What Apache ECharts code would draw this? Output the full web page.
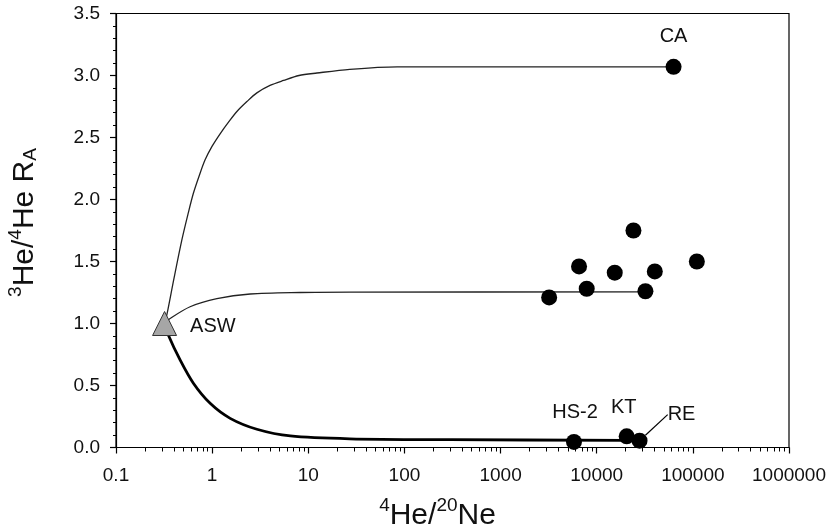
<!DOCTYPE html>
<html>
<head>
<meta charset="utf-8">
<script src="https://cdn.jsdelivr.net/npm/echarts@6/dist/echarts.min.js"></script>
<style>
  html, body { margin: 0; padding: 0; background: #fff; }
  #chart { width: 831px; height: 529px; }
</style>
</head>
<body>
<div id="chart"></div>
<script>
// Tick labels
const xTickLabels = ['0.1', '1', '10', '100', '1000', '10000', '100000', '1000000'];
const xDecades = [0.1, 1, 10, 100, 1000, 10000, 100000];

// Air-saturated water end member
const aswX = [0.32];
const aswY = [1.0];

// Unlabelled samples
const sampleX = [3200, 6550, 7870, 15400, 24100, 32100, 40200, 110000];
const sampleY = [1.21, 1.46, 1.28, 1.41, 1.75, 1.26, 1.42, 1.50];

// Named sites
const siteNames = ['CA', 'HS-2', 'KT', 'RE'];
const siteX = [63000, 5800, 20500, 27900];
const siteY = [3.07, 0.045, 0.09, 0.055];

// Mixing curves from ASW
const curveUpperX = [0.32, 0.34, 0.40, 0.483, 0.56, 0.638, 0.74, 0.845, 1.0, 1.21, 1.5, 1.81, 2.3, 2.92, 4.0, 5.53, 8.0, 12.3, 27, 84, 1000, 63000];
const curveUpperY = [1.0, 1.08, 1.36, 1.67, 1.88, 2.05, 2.2, 2.32, 2.43, 2.53, 2.63, 2.71, 2.79, 2.86, 2.92, 2.96, 3.0, 3.02, 3.05, 3.07, 3.07, 3.07];

const curveMidX = [0.32, 0.365, 0.59, 1.12, 2.49, 8.3, 27, 32100];
const curveMidY = [1.0, 1.04, 1.135, 1.2, 1.238, 1.25, 1.253, 1.255];

const curveLowX = [0.32, 0.35, 0.464, 0.638, 0.953, 1.54, 2.92, 6.5, 27, 300, 20000];
const curveLowY = [1.0, 0.907, 0.706, 0.518, 0.356, 0.235, 0.147, 0.093, 0.07, 0.063, 0.058];

const zip = (xs, ys) => xs.map((x, i) => [x, ys[i]]);

const minorTicks = [];
xDecades.forEach(d => { for (let k = 2; k <= 9; k++) minorTicks.push(k * d); });

// Label shifts (px) from each site marker's centre
const siteLabelShift = {
  'CA': [0, -30],
  'HS-2': [1, -29],
  'KT': [-3, -29],
  'RE': [42, -26]
};

const FONT = 'Liberation Sans, Arial, sans-serif';
const INK = '#000';

const siteData = siteNames.map((name, i) => ({
  name: name,
  value: [siteX[i], siteY[i]],
  labelLine: { show: name === 'RE' }
}));

const chart = echarts.init(document.getElementById('chart'), null, { renderer: 'canvas' });

chart.setOption({
  animation: false,
  backgroundColor: '#fff',
  grid: {
    left: 116, right: 42, top: 13.5, bottom: 81.5,
    containLabel: false, outerBoundsMode: 'none',
    show: true, borderColor: INK, borderWidth: 1.2, backgroundColor: 'transparent'
  },
  xAxis: [
    {
      type: 'log', logBase: 10, min: 0.1, max: 1000000,
      position: 'bottom',
      axisLine: { show: true, onZero: false, lineStyle: { color: INK, width: 1.2 } },
      axisTick: { show: true, length: 6, lineStyle: { color: INK, width: 1.2 } },
      minorTick: { show: false },
      splitLine: { show: false },
      axisLabel: {
        color: '#111', fontFamily: FONT, fontSize: 19, margin: 19,
        formatter: v => xTickLabels[Math.round(Math.log10(v)) + 1]
      },
      name: '{sup|4}{main|He/}{sup|20}{main|Ne}',
      nameLocation: 'middle',
      nameGap: 49,
      nameTextStyle: {
        padding: [0, 30, 0, 0],
        rich: {
          main: { fontFamily: FONT, fontSize: 30, color: '#111', lineHeight: 34, verticalAlign: 'bottom' },
          sup: { fontFamily: FONT, fontSize: 19, color: '#111', lineHeight: 19, verticalAlign: 'top' }
        }
      }
    },
    {
      type: 'log', logBase: 10, min: 0.1, max: 1000000,
      position: 'bottom',
      axisLine: { show: false, onZero: false },
      axisTick: { show: true, length: 4, customValues: minorTicks, lineStyle: { color: INK, width: 1 } },
      axisLabel: { show: false },
      splitLine: { show: false }
    }
  ],
  yAxis: {
    type: 'value', min: 0, max: 3.5, interval: 0.5,
    axisLine: { show: true, onZero: false, lineStyle: { color: INK, width: 1.2 } },
    axisTick: { show: true, length: 6, lineStyle: { color: INK, width: 1.2 } },
    minorTick: { show: true, splitNumber: 5, length: 3, lineStyle: { color: INK, width: 1 } },
    splitLine: { show: false },
    axisLabel: {
      color: '#111', fontFamily: FONT, fontSize: 19, margin: 16,
      formatter: v => v.toFixed(1)
    },
    name: '{sup|3}{main|He/}{sup|4}{main|He R}{sub|A}',
    nameLocation: 'middle',
    nameGap: 76,
    nameTextStyle: {
      padding: [0, 0, 0, 16],
      rich: {
        main: { fontFamily: FONT, fontSize: 30, color: '#111', lineHeight: 34, verticalAlign: 'bottom' },
        sup: { fontFamily: FONT, fontSize: 19, color: '#111', lineHeight: 19, verticalAlign: 'top' },
        sub: { fontFamily: FONT, fontSize: 19, color: '#111', lineHeight: 19, verticalAlign: 'bottom' }
      }
    }
  },
  series: [
    {
      name: 'upper', type: 'line', data: zip(curveUpperX, curveUpperY),
      showSymbol: false, smooth: 0.3,
      lineStyle: { color: '#222', width: 1.3 }, z: 2, silent: true
    },
    {
      name: 'middle', type: 'line', data: zip(curveMidX, curveMidY),
      showSymbol: false, smooth: 0.3,
      lineStyle: { color: '#222', width: 1.3 }, z: 2, silent: true
    },
    {
      name: 'lower', type: 'line', data: zip(curveLowX, curveLowY),
      showSymbol: false, smooth: 0.3,
      lineStyle: { color: INK, width: 2.8 }, z: 2, silent: true
    },
    {
      name: 'samples', type: 'scatter', data: zip(sampleX, sampleY),
      symbol: 'circle', symbolSize: 16,
      itemStyle: { color: INK, opacity: 1 }, z: 3
    },
    {
      name: 'sites', type: 'scatter', data: siteData,
      symbol: 'circle', symbolSize: 16,
      itemStyle: { color: INK, opacity: 1 }, z: 3,
      label: {
        show: true, position: 'inside', formatter: p => p.name,
        color: '#111', fontFamily: FONT, fontSize: 20
      },
      labelLayout: params => {
        const s = siteLabelShift[siteNames[params.dataIndex]];
        return { dx: s[0], dy: s[1] };
      },
      labelLine: { lineStyle: { color: INK, width: 1.2 } }
    },
    {
      name: 'ASW', type: 'scatter', data: zip(aswX, aswY),
      symbol: 'triangle', symbolSize: 24,
      itemStyle: { color: '#a6a6a6', borderColor: '#333', borderWidth: 1, opacity: 1 }, z: 4,
      label: {
        show: true, position: 'right', distance: 13, offset: [0, 3],
        formatter: 'ASW', color: '#111', fontFamily: FONT, fontSize: 20
      }
    }
  ]
});
</script>
</body>
</html>
